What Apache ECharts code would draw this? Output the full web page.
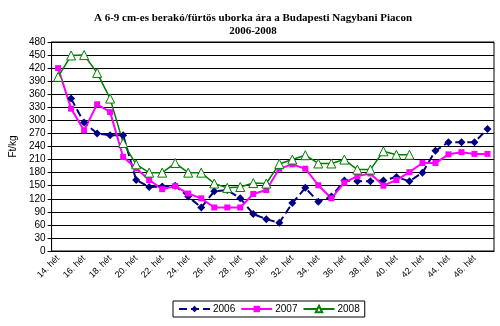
<!DOCTYPE html>
<html><head><meta charset="utf-8">
<script src="https://cdn.jsdelivr.net/npm/echarts@6/dist/echarts.min.js"></script>
<style>html,body{margin:0;padding:0;background:#fff}#c{width:500px;height:326px}</style>
</head><body><div id="c"></div>
<script>
const weeks = [];
for (let w = 14; w <= 47; w++) weeks.push(w + '. hét');
const y2006 = [null,350,295,270,266,266,163,147,148,150,125,100,137,140,121,85,73,65,110,145,113,125,162,160,160,162,170,160,180,230,250,250,250,280];
const y2007 = [420,327,277,337,319,216,190,163,142,149,132,121,100,100,100,131,140,189,199,189,151,121,157,172,178,150,163,181,202,202,222,227,223,223];
const y2008 = [400,449,450,409,350,248,199,180,180,202,180,180,155,145,147,156,155,200,210,220,201,201,210,187,187,229,221,221,null,null,null,null,null,null];
const seriesNames = ['2006','2007','2008'];
const yTicks = {min:0, max:480, interval:30};

const chart = echarts.init(document.getElementById('c'), null, {renderer:'canvas'});
chart.setOption({
  animation:false,
  backgroundColor:'#fff',
  title:{
    text:'A 6-9 cm-es berakó/fürtös uborka ára a Budapesti Nagybani Piacon\n2006-2008',
    left:248, textAlign:'center', top:7,
    textStyle:{fontFamily:'Liberation Serif', fontWeight:'bold', fontSize:11, lineHeight:13, color:'#000'}
  },
  legend:{
    data:seriesNames, bottom:9, left:173,
    itemWidth:31, itemHeight:8, itemGap:5,
    borderColor:'#000', borderWidth:1, padding:[3,5,3,5],
    textStyle:{fontFamily:'Liberation Sans', fontSize:10, color:'#000', padding:[0,0,0,-2]}
  },
  grid:{left:47, right:6, top:42, bottom:75, show:true, borderColor:'#000', borderWidth:1},
  xAxis:{
    type:'category', data:weeks, boundaryGap:true,
    axisLine:{lineStyle:{color:'#000'}},
    axisTick:{interval:0, length:4, lineStyle:{color:'#000'}},
    axisLabel:{interval:1, rotate:45, fontFamily:'Liberation Sans', fontSize:9, color:'#000', margin:6}
  },
  yAxis:{
    type:'value', min:yTicks.min, max:yTicks.max, interval:yTicks.interval,
    name:'Ft/kg', nameLocation:'middle', nameGap:30, nameRotate:90,
    nameTextStyle:{fontFamily:'Liberation Sans', fontSize:10, color:'#000'},
    axisLine:{show:true, lineStyle:{color:'#000'}},
    axisTick:{show:true, length:4, lineStyle:{color:'#000'}},
    axisLabel:{fontFamily:'Liberation Sans', fontSize:10, color:'#000', margin:6},
    splitLine:{lineStyle:{color:'#000', width:1}}
  },
  series:[
    {name:'2006', type:'line', data:y2006, symbol:'diamond', symbolSize:8, showAllSymbol:true,
     itemStyle:{color:'#000080'}, lineStyle:{color:'#000080', width:2, type:[8,4]}, connectNulls:false},
    {name:'2007', type:'line', data:y2007, symbol:'rect', symbolSize:6, showAllSymbol:true,
     itemStyle:{color:'#ff00ff'}, lineStyle:{color:'#ff00ff', width:2}},
    {name:'2008', type:'line', data:y2008, symbol:'triangle', symbolSize:9, showAllSymbol:true,
     itemStyle:{color:'#fff', borderColor:'#008000', borderWidth:1}, lineStyle:{color:'#008000', width:1.5}}
  ]
});
</script></body></html>
